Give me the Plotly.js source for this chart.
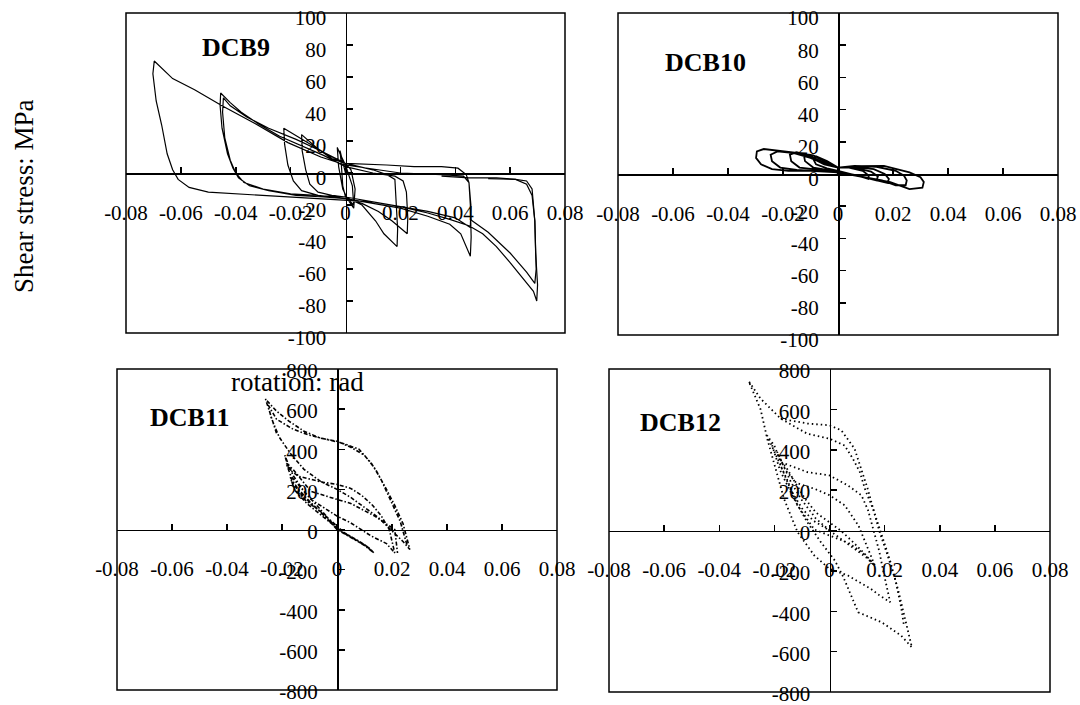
<!DOCTYPE html>
<html>
<head>
<meta charset="utf-8">
<script src="https://cdn.plot.ly/plotly-3.0.1.min.js"></script>
<style>
html,body{margin:0;padding:0;background:#fff;}
#chart{width:1080px;height:705px;}
</style>
</head>
<body>
<div id="chart"></div>
<script>
// ---- tick labels ----
const xTickVals = [-0.08, -0.06, -0.04, -0.02, 0, 0.02, 0.04, 0.06, 0.08];
const xTickText = ["-0.08", "-0.06", "-0.04", "-0.02", "0", "0.02", "0.04", "0.06", "0.08"];
const yTickValsTop = [100, 80, 60, 40, 20, 0, -20, -40, -60, -80, -100];
const yTickTextTop = ["100", "80", "60", "40", "20", "0", "-20", "-40", "-60", "-80", "-100"];
const yTickValsBottom = [800, 600, 400, 200, 0, -200, -400, -600, -800];
const yTickTextBottom = ["800", "600", "400", "200", "0", "-200", "-400", "-600", "-800"];

// ---- specimen names & titles ----
const specimens = ["DCB9", "DCB10", "DCB11", "DCB12"];
const xTitle = "rotation: rad";
const yTitle = "Shear stress: MPa";

// ---- hysteresis data [rotation (rad), shear stress (MPa)] ----
const dcb9Pts = [
  [0,0],[-0.001,8],[-0.002,14],[-0.0015,5],[-0.001,-8],[0,-15],[0.002,-18],[0.003,-20],[0.0025,-8],[0.001,0],[0,5],
  [-0.002,12],[-0.003,16],[-0.0025,4],[-0.001,-10],[0.001,-17],[0.003,-22],[0.0035,-10],[0.002,2],[0,6],
  [-0.005,9],[-0.010,15],[-0.016,24],[-0.0158,14],[-0.0145,2],[-0.013,-7],[-0.010,-12],[-0.005,-14],[0,-15],
  [0.006,-20],[0.011,-30],[0.014,-38],[0.0188,-46],[0.019,-35],[0.0185,-15],[0.018,-4],[0.015,-1],[0.010,2],[0.005,4],[0,6],
  [-0.006,11],[-0.012,17],[-0.018,23],[-0.0225,28],[-0.0222,18],[-0.021,5],[-0.019,-5],[-0.016,-11],[-0.010,-14],[0,-16],
  [0.006,-19],[0.012,-24],[0.017,-30],[0.0225,-38],[0.0227,-28],[0.0222,-12],[0.021,-5],[0.018,-2],[0.010,0],[0,4],
  [-0.008,11],[-0.016,17],[-0.024,23],[-0.032,31],[-0.038,38],[-0.042,44],[-0.0455,50],[-0.0457,42],[-0.045,28],[-0.043,12],
  [-0.041,3],[-0.039,-3],[-0.035,-8],[-0.028,-11],[-0.018,-14],[-0.008,-15],[0,-16],[0.010,-19],[0.020,-22],[0.030,-27],
  [0.038,-32],[0.042,-38],[0.0455,-52],[0.0458,-40],[0.0455,-20],[0.045,-6],[0.044,-1],[0.041,3],[0.035,4],[0.025,4],[0.015,5],[0,6],
  [-0.008,13],[-0.018,21],[-0.028,28],[-0.036,35],[-0.042,42],[-0.0445,47],[-0.0448,38],[-0.044,22],[-0.042,8],[-0.040,0],
  [-0.037,-6],[-0.030,-10],[-0.020,-13],[0,-15],[0.010,-18],[0.020,-21],[0.030,-24],[0.040,-28],[0.0455,-34],[0.0457,-20],
  [0.045,-6],[0.043,-2],[0.035,-1],[0.020,0],[0,5],
  [-0.009,10],[-0.021,19],[-0.033,31],[-0.045,42],[-0.055,52],[-0.063,59],[-0.0697,70],[-0.0702,62],[-0.069,45],[-0.067,30],
  [-0.065,12],[-0.063,2],[-0.061,-4],[-0.057,-9],[-0.050,-12],[-0.040,-13],[-0.030,-14],[-0.020,-15],[-0.010,-16],[0,-17],
  [0.010,-18],[0.020,-21],[0.030,-25],[0.038,-29],[0.045,-33],[0.050,-38],[0.055,-46],[0.060,-56],[0.065,-67],[0.0685,-74],
  [0.0697,-80],[0.070,-70],[0.0693,-50],[0.069,-30],[0.068,-14],[0.066,-7],[0.062,-4],[0.055,-3],[0.045,-3],[0.035,-2],
  [null,null],
  [0.0455,-29],[0.052,-37],[0.060,-50],[0.066,-62],[0.069,-69],[0.0695,-60],[0.069,-30],[0.068,-10],[0.066,-5],[0.062,-4],[0.052,-3.5]
];

const dcb10Pts = [
  [0,4],[-0.004,8],[-0.008,11],[-0.0092,10],[-0.008,6],[-0.004,3.5],[0,2],[0.005,0],[0.009,-2],[0.011,-3],[0.0112,-1],[0.009,2],[0.004,4],[0,4],
  [-0.005,8],[-0.009,11.5],[-0.0125,12.5],[-0.012,8],[-0.009,4],[-0.005,3],[0,1.5],[0.006,-0.5],[0.011,-2.5],[0.014,-4],[0.0145,-1.5],[0.012,1.5],[0.006,4],[0,4],
  [-0.005,7],[-0.010,11],[-0.015,13.5],[-0.0175,12],[-0.017,8],[-0.014,4],[-0.009,3],[0,1],[0.007,-1],[0.013,-3.5],[0.018,-5.5],[0.0185,-3],[0.017,0],[0.013,3],[0.006,4.5],[0,4],
  [-0.005,6.5],[-0.010,10],[-0.016,13],[-0.022,14],[-0.0245,12],[-0.024,8],[-0.021,4],[-0.015,2.5],[-0.008,2],[0,1],[0.008,-1.5],[0.016,-4],[0.021,-7],[0.0246,-7],[0.025,-4],[0.024,-1],[0.021,2],[0.014,4.5],[0.006,5],[0,4],
  [-0.005,6],[-0.008,8.5],[-0.012,12.5],[-0.020,14],[-0.027,15.5],[-0.0295,14],[-0.0298,10],[-0.028,6],[-0.024,3],[-0.018,2],[-0.010,2],[0,1],
  [0.0095,-2],[0.019,-5],[0.026,-9.4],[0.0307,-8.5],[0.0312,-5],[0.030,-2],[0.026,1],[0.0167,5],[0.007,4.8],[0,4]
];

const dcb11Pts = [
  [0,0],[-0.004,60],[-0.009,125],[-0.013,175],[-0.0165,240],[-0.015,190],[-0.011,130],[-0.006,75],[-0.002,30],[0.002,-15],
  [0.006,-45],[0.010,-80],[0.013,-112],[0.011,-85],[0.007,-55],[0.003,-25],[0,0],
  [-0.005,75],[-0.010,140],[-0.014,200],[-0.017,260],[-0.0155,200],[-0.011,140],[-0.006,90],[-0.002,40],[0.003,-20],
  [0.008,-60],[0.012,-95],[0.0135,-118],[0.010,-75],[0.005,-35],[0,5],
  [-0.006,100],[-0.012,190],[-0.016,270],[-0.019,370],[-0.0175,300],[-0.014,265],[-0.0095,250],[-0.005,235],[0,225],
  [0.005,205],[0.009,170],[0.013,120],[0.016,70],[0.019,0],[0.021,-117],[0.018,-70],[0.0125,-33],[0.005,33],[0,67],
  [-0.0095,150],[-0.0168,267],[-0.0185,330],
  [-0.016,300],[-0.0095,190],[0,150],[0.005,130],[0.0137,67],[0.021,0],[0.022,-117],
  [null,null],
  [-0.022,480],[-0.0245,580],[-0.026,650],[-0.022,590],[-0.0175,540],[-0.012,490],[-0.006,455],[0,440],[0.005,410],
  [0.010,370],[0.014,300],[0.018,200],[0.021,120],[0.024,30],[0.0265,-100],[0.024,-60],[0.020,-5],[0.015,60],[0.010,110],
  [0.005,160],[0,200],[-0.006,240],[-0.012,300],[-0.017,380],[-0.021,460],[-0.024,560],[-0.025,620],
  [-0.022,550],[-0.016,500],[-0.010,470],[-0.004,450],[0.002,430],[0.008,400],[0.0125,330],[0.016,250],[0.020,130],
  [0.023,40],[0.0255,-80]
];

const dcb12Pts = [
  [0,0],[-0.005,60],[-0.010,150],[-0.014,240],[-0.019,390],[-0.016,300],[-0.012,235],[-0.0055,207],[0,175],[0.0055,125],
  [0.0105,25],[0.014,-90],[0.0165,-175],[0.012,-110],[0.0067,-60],[0.003,-41],[0,-25],[-0.0055,5],[-0.0116,124],[-0.015,240],[-0.018,330],
  [-0.016,320],[-0.013,250],[-0.009,160],[-0.005,90],[0,40],[0.004,0],[0.008,-50],[0.0128,-116],[0.0165,-175],[0.013,-130],
  [0.008,-80],[0.003,-30],[0,0],[-0.006,50],[-0.010,110],[-0.014,200],
  [-0.018,330],[-0.0226,470],[-0.020,420],[-0.0177,339],[-0.008,289],[0,273],[0.0067,223],[0.0116,174],[0.014,100],[0.016,0],
  [0.018,-100],[0.0195,-200],[0.021,-300],[0.022,-355],[0.018,-320],[0.015,-289],[0.0067,-223],[0,-190],[-0.0055,-124],
  [-0.0116,-8],[-0.0165,157],[-0.0195,300],[-0.0226,455],
  [-0.025,600],[-0.0293,739],[-0.025,653],[-0.0177,554],[-0.008,479],[0,455],[0.0055,421],[0.0085,355],[0.011,290],[0.013,200],
  [0.016,100],[0.019,-20],[0.022,-150],[0.025,-300],[0.027,-420],[0.0299,-579],[0.026,-521],[0.019,-455],[0.0104,-405],
  [0.008,-330],[0.005,-230],[0.002,-150],[-0.003,-60],[-0.008,40],[-0.013,160],[-0.018,300],[-0.021,430],
  [null,null],
  [-0.0177,554],[-0.008,530],[0,521],[0.0043,496],[0.0091,405],[0.0116,300],[0.014,200],[0.016,100],[0.018,0],[0.021,-120],
  [0.024,-250],[0.026,-380],[0.027,-470]
];

const W = 1080, H = 705;
const FONT = "Liberation Serif, Times New Roman, serif";

// subplot frames in pixels [left, right, top, bottom]
const frames = [
  [126, 565, 13, 333],
  [618, 1058, 13, 335],
  [117, 557, 369, 690],
  [609, 1050, 369, 692]
];
const dataSets = [dcb9Pts, dcb10Pts, dcb11Pts, dcb12Pts];
const yRanges = [[-100, 100], [-100, 100], [-800, 800], [-800, 800]];
const lineStyles = [
  {color: "#000", width: 1.2, dash: "solid"},
  {color: "#000", width: 1.8, dash: "solid"},
  {color: "#000", width: 1.6, dash: "4px,2px,1.5px,2px"},
  {color: "#000", width: 1.8, dash: "1.5px,3px"}
];
const labelPos = [[236, 48], [705, 62], [189, 417], [680, 422]];

const traces = [];
const layout = {
  width: W, height: H,
  margin: {l: 0, r: 0, t: 0, b: 0},
  paper_bgcolor: "#fff", plot_bgcolor: "#fff",
  showlegend: false,
  shapes: [], annotations: []
};

frames.forEach((f, i) => {
  const n = i === 0 ? "" : String(i + 1);
  const xd = [f[0] / W, f[1] / W];
  const yd = [1 - f[3] / H, 1 - f[2] / H];
  const pts = dataSets[i];
  traces.push({
    x: pts.map(p => p[0]), y: pts.map(p => p[1]),
    xaxis: "x" + n, yaxis: "y" + n,
    type: "scatter", mode: "lines",
    line: lineStyles[i], connectgaps: false, hoverinfo: "skip"
  });
  const common = {
    anchor: "free", showline: true, linecolor: "#000", linewidth: 1.5,
    ticks: "inside", ticklen: 6, tickwidth: 1.5, tickcolor: "#000",
    showgrid: false, zeroline: false, fixedrange: true,
    ticklabeloverflow: "allow",
    tickfont: {family: FONT, size: 21, color: "#000"}
  };
  layout["xaxis" + n] = Object.assign({}, common, {
    domain: xd, range: [-0.08, 0.08], position: (yd[0] + yd[1]) / 2,
    tickmode: "array", tickvals: xTickVals, ticktext: xTickText,
    ticklabelstandoff: 20
  });
  const isTop = i < 2;
  layout["yaxis" + n] = Object.assign({}, common, {
    domain: yd, range: yRanges[i], position: (xd[0] + xd[1]) / 2,
    tickmode: "array",
    tickvals: isTop ? yTickValsTop : yTickValsBottom,
    ticktext: isTop ? yTickTextTop : yTickTextBottom,
    ticklabelstandoff: 15, ticklabelshift: isTop ? 5 : 2
  });
  layout.shapes.push({
    type: "rect", xref: "x" + n + " domain", yref: "y" + n + " domain",
    x0: 0, x1: 1, y0: 0, y1: 1, line: {color: "#000", width: 1.5}
  });
  layout.annotations.push({
    xref: "paper", yref: "paper", x: labelPos[i][0] / W, y: 1 - labelPos[i][1] / H,
    text: "<b>" + specimens[i] + "</b>", showarrow: false,
    xanchor: "center", yanchor: "middle",
    font: {family: FONT, size: 26, color: "#000"}
  });
});

layout.annotations.push({
  xref: "paper", yref: "paper", x: 24 / W, y: 1 - 197 / H,
  text: yTitle, textangle: -90, showarrow: false,
  xanchor: "center", yanchor: "middle",
  font: {family: FONT, size: 27, color: "#000"}
});
layout.annotations.push({
  xref: "paper", yref: "paper", x: 297 / W, y: 1 - 382 / H,
  text: xTitle, showarrow: false,
  xanchor: "center", yanchor: "middle",
  font: {family: FONT, size: 27, color: "#000"}
});

Plotly.newPlot("chart", traces, layout, {displayModeBar: false, staticPlot: true});
</script>
</body>
</html>
